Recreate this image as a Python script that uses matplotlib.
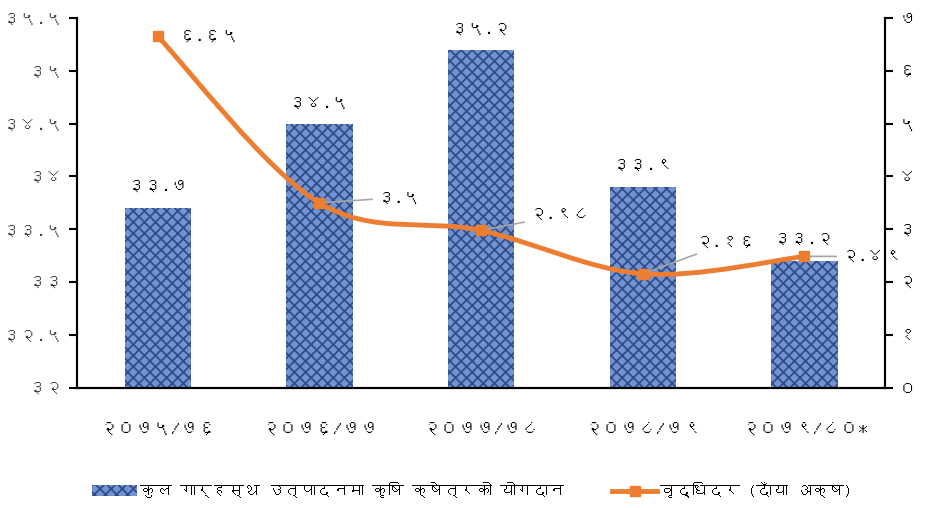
import matplotlib
matplotlib.use('Agg')
import matplotlib.pyplot as plt
from matplotlib import font_manager
from matplotlib.ft2font import FT2Font
from matplotlib.path import Path
from matplotlib.patches import PathPatch, Patch
from matplotlib.lines import Line2D
import numpy as np

# data
years = ['२०७५/७६', '२०७६/७७', '२०७७/७८', '२०७८/७९', '२०७९/८०*']
share = [33.7, 34.5, 35.2, 33.9, 33.2]
share_labels = ['३३.७', '३४.५', '३५.२', '३३.९', '३३.२']
growth = [6.65, 3.5, 2.98, 2.16, 2.49]
growth_labels = ['६.६५', '३.५', '२.९८', '२.१६', '२.४९']
left_ticks = [32, 32.5, 33, 33.5, 34, 34.5, 35, 35.5]
left_ticklabels = ['३२', '३२.५', '३३', '३३.५', '३४', '३४.५', '३५', '३५.५']
right_ticks = [0, 1, 2, 3, 4, 5, 6, 7]
right_ticklabels = ['०', '१', '२', '३', '४', '५', '६', '७']
legend_bar = 'कुल गार्हस्थ उत्पादनमा कृषि क्षेत्रको योगदान'
legend_line = 'वृद्धिदर (दाँया अक्ष)'


# find a font that has devanagari glyphs
deva = []
for f in font_manager.fontManager.ttflist:
    try:
        ft = FT2Font(f.fname)
        if ft.get_char_index(0x0966) and ft.get_char_index(0x0915):
            if f.name not in deva:
                deva.append(f.name)
    except Exception:
        pass
plt.rcParams['font.family'] = deva + ['DejaVu Sans']
plt.rcParams['hatch.linewidth'] = 1.3

ORANGE = '#ED7D31'
BAR = '#7393D0'
BAR_HATCH = '#2F4D8A'

fig = plt.figure(figsize=(9.26, 5.08), dpi=100)
ax = fig.add_axes([0.083, 0.236, 0.873, 0.729])
ax2 = ax.twinx()

x = np.arange(len(years))
ax.bar(x, share, width=0.41, bottom=0, color=BAR, edgecolor=BAR_HATCH,
       hatch='xxx', linewidth=0, zorder=2)
ax.set_ylim(32, 35.5)
ax.set_xlim(-0.5, len(years) - 0.5)
ax.set_yticks(left_ticks)
ax.set_yticklabels(left_ticklabels)
ax.set_xticks(x)
ax.set_xticklabels(years)
for xi, v, lab in zip(x, share, share_labels):
    ax.annotate(lab, (xi, v), xytext=(0, 10), textcoords='offset points',
                ha='center', va='bottom', fontsize=12.5)

# smoothed line (bezier through the data points)
pts = np.column_stack([x, growth])
verts = [pts[0]]
codes = [Path.MOVETO]
t = 1 / 6
for i in range(len(pts) - 1):
    p0 = pts[i - 1] if i > 0 else pts[i]
    p1 = pts[i]
    p2 = pts[i + 1]
    p3 = pts[i + 2] if i + 2 < len(pts) else pts[i + 1]
    c1 = p1 + (p2 - p0) * t
    c2 = p2 - (p3 - p1) * t
    verts += [c1, c2, p2]
    codes += [Path.CURVE4] * 3
ax2.add_patch(PathPatch(Path(verts, codes), facecolor='none', edgecolor=ORANGE,
                        lw=3.5, capstyle='round', zorder=3))
ax2.plot(x, growth, ls='none', marker='s', ms=6.5, color=ORANGE, zorder=4)
ax2.set_ylim(0, 7)
ax2.set_yticks(right_ticks)
ax2.set_yticklabels(right_ticklabels)

# growth labels with leader lines (offsets in points)
offsets = [(15, 0), (42, 4), (35, 11), (38, 22), (27, 0)]
for i, (xi, v, lab) in enumerate(zip(x, growth, growth_labels)):
    dx, dy = offsets[i]
    if i == 0:
        ax2.annotate(lab, (xi, v), xytext=(dx, 0), textcoords='offset points',
                     ha='left', va='center', fontsize=12.5, annotation_clip=False)
    else:
        ax2.annotate(lab, (xi, v), xytext=(dx, dy), textcoords='offset points',
                     ha='left', va='center', fontsize=12.5, annotation_clip=False,
                     arrowprops=dict(arrowstyle='-', color='#A6A6A6', lw=1.2,
                                     shrinkA=2, shrinkB=0))

for a in (ax, ax2):
    a.spines['top'].set_visible(False)
    a.spines['left'].set_linewidth(1.5)
    a.spines['right'].set_linewidth(1.5)
    a.spines['bottom'].set_linewidth(1.5)
    a.tick_params(axis='y', labelsize=12.5, length=6, width=1.5, colors='black')
ax.tick_params(axis='x', length=0, labelsize=13, pad=24)
ax.tick_params(axis='y', labelcolor='#404040')
ax.set_zorder(1)
ax2.set_zorder(2)

handles = [Patch(facecolor=BAR, edgecolor=BAR_HATCH, hatch='xxx', linewidth=0),
           Line2D([0], [0], color=ORANGE, lw=3.5, marker='s', ms=6.5)]
fig.legend(handles, [legend_bar, legend_line], loc='center', ncol=2,
           bbox_to_anchor=(0.51, 0.035), frameon=False, fontsize=11.5,
           columnspacing=3, handlelength=2.8, handletextpad=0.2)

fig.savefig('out.png', dpi=100)
